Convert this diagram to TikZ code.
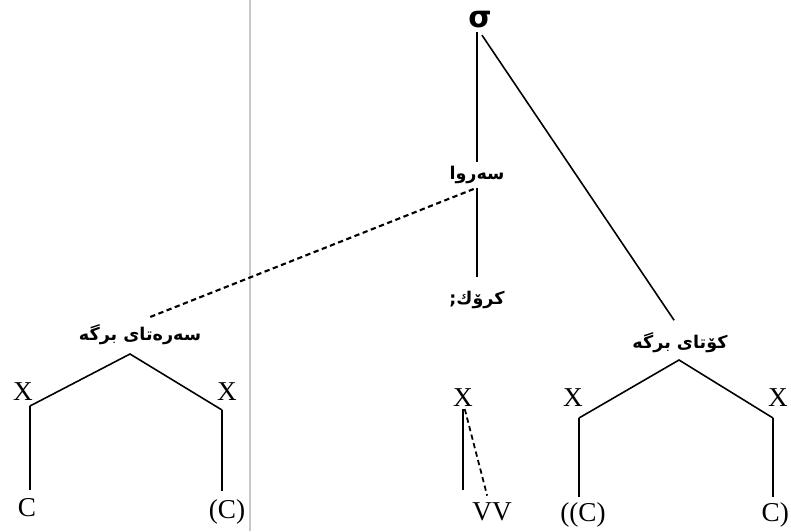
\documentclass[tikz,border=0pt]{standalone}
\usepackage{fontspec}
\setmainfont{Liberation Serif}
\newfontfamily\arabicfont[Script=Arabic]{DejaVu Sans}
\newfontfamily\greekfont{DejaVu Sans}
\TeXXeTstate=1
\usetikzlibrary{calc}

\begin{document}
\begin{tikzpicture}[x=0.02cm, y=-0.02cm,
    seg/.style={font=\fontsize{15.5}{15.5}\selectfont, inner sep=1pt},
    lbl/.style={font=\arabicfont\bfseries\fontsize{10}{10}\selectfont, inner sep=2pt},
    branch/.style={line width=0.9pt},
    link/.style={line width=1.2pt, dash pattern=on 3pt off 2pt}
]
    \useasboundingbox (0,0) rectangle (791,531);

    % page rule
    \draw[black!22, line width=1.2pt] (250,0) -- (250,531);

    % syllable, rhyme, nucleus
    \node[font=\greekfont\bfseries\fontsize{17}{17}\selectfont, inner sep=2pt] (sigma) at (480,20) {σ};
    \node[lbl] (rhyme)   at (477,175) {\beginR سەروا\endR};
    \node[lbl] (nucleus) at (477,300) {\beginR کرۆك;\endR};
    \draw[branch] (rhyme.north |- sigma.south) -- (rhyme.north);
    \draw[branch, shorten >=6pt] (rhyme.south) -- (nucleus.north);

    % onset
    \node[lbl] (onset) at (140,335) {\beginR سەرەتای برگە\endR};
    \coordinate (onsetpeak) at (130,354);
    \node[seg] (ox1) at (23,392) {X};
    \node[seg] (ox2) at (227,392) {X};
    \coordinate (oj1) at (30,406);
    \coordinate (oj2) at (222,410);
    \node[seg] (oc1) at (27,508) {C};
    \node[seg] (oc2) at (227,512) {(C)};
    \draw[branch] (oj1) -- (onsetpeak) -- (oj2);
    \draw[branch, shorten >=4pt] (oj1) -- (oj1 |- oc1.north);
    \draw[branch, shorten >=4pt] (oj2) -- (oj2 |- oc2.north);
    \draw[link, shorten <=2pt, shorten >=5pt] (rhyme.south) -- (onset.north);

    % nucleus slot
    \node[seg] (nx) at (463,398) {X};
    \node[seg] (nv) at (492,512) {VV};
    \draw[branch, shorten >=6pt] (nx.south) -- (nx.south |- nv.north);
    \draw[link, line width=1pt, shorten >=3pt] ([xshift=1pt]nx.south) -- ([xshift=-2pt]nv.north);

    % coda
    \node[lbl] (coda) at (680,343) {\beginR کۆتای برگە\endR};
    \draw[branch, shorten <=2pt, shorten >=6pt] (sigma.south) -- (coda.north);
    \coordinate (codapeak) at (679,360);
    \node[seg] (cx1) at (573,398) {X};
    \node[seg] (cx2) at (778,398) {X};
    \coordinate (cj1) at (579,418);
    \coordinate (cj2) at (773,418);
    \node[seg] (cc1) at (583,515) {((C)};
    \node[seg, anchor=east] (cc2) at (791,515) {C)};
    \draw[branch] (cj1) -- (codapeak) -- (cj2);
    \draw[branch, shorten >=2pt] (cj1) -- (cj1 |- cc1.north);
    \draw[branch, shorten >=2pt] (cj2) -- (cj2 |- cc2.north);
\end{tikzpicture}
\end{document}
